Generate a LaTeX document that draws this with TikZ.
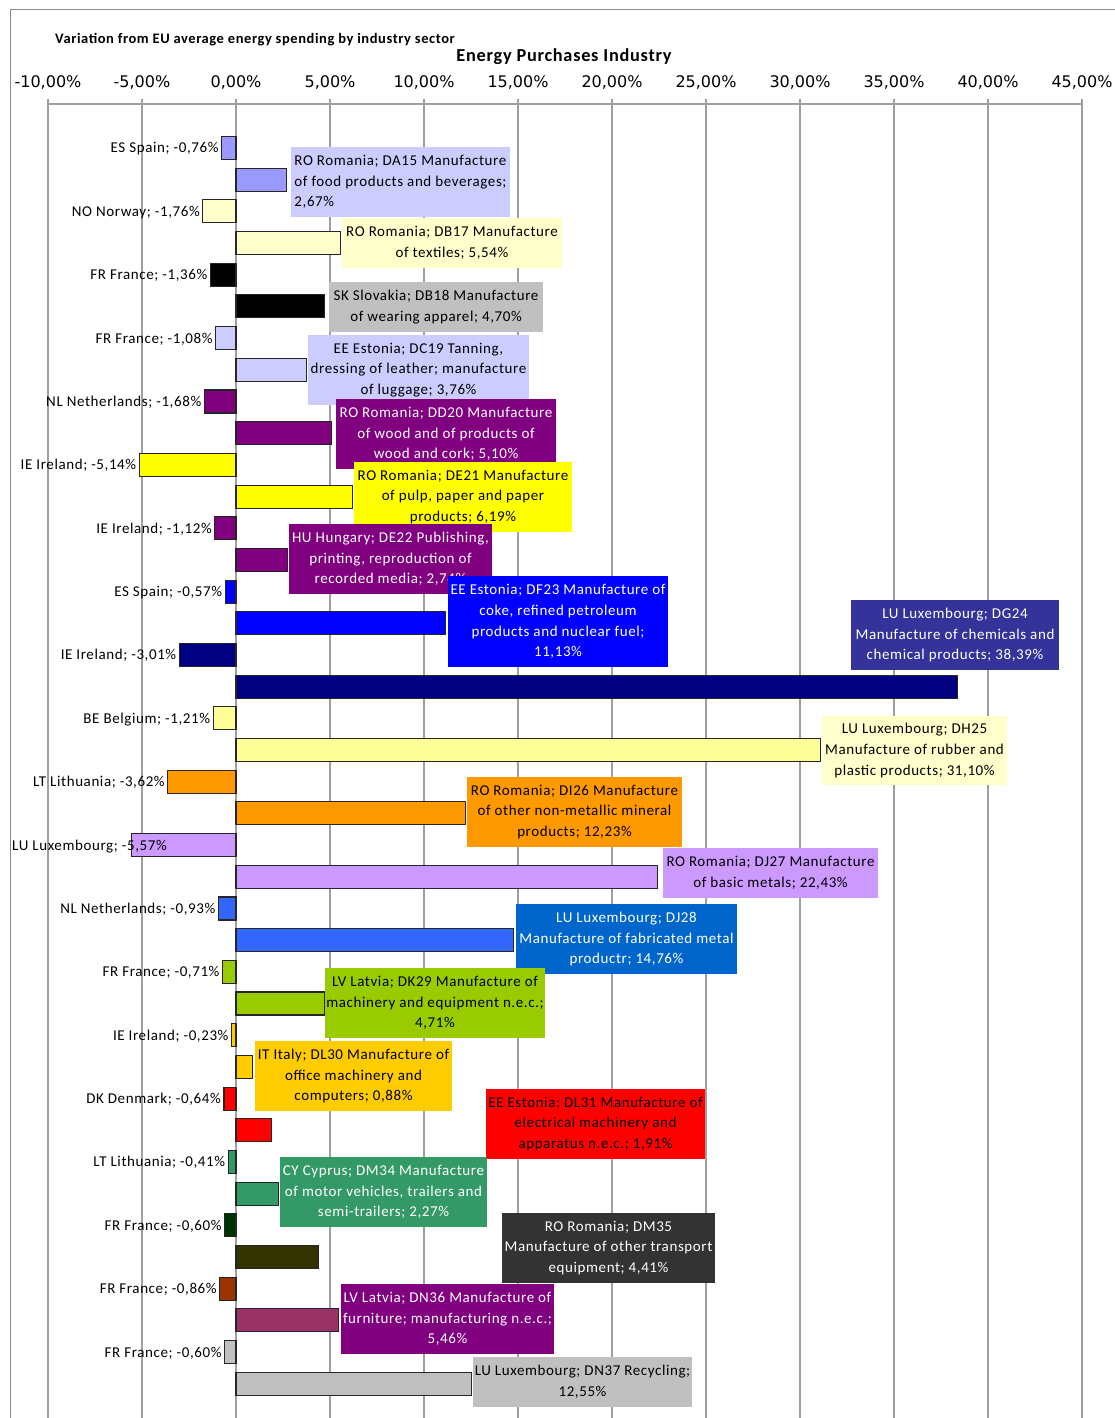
\documentclass[tikz,border=0pt]{standalone}
\usepackage{fontspec}
\setmainfont{Carlito}
\newfontfamily\lblfont{Carlito}[LetterSpace=4]
\newfontfamily\axfont{DejaVu Sans}
\definecolor{c9999ff}{HTML}{9999FF}
\definecolor{cffffcc}{HTML}{FFFFCC}
\definecolor{cccccff}{HTML}{CCCCFF}
\definecolor{cc0c0c0}{HTML}{C0C0C0}
\definecolor{c800080}{HTML}{800080}
\definecolor{cffff00}{HTML}{FFFF00}
\definecolor{c0000ff}{HTML}{0000FF}
\definecolor{c000080}{HTML}{000080}
\definecolor{c333399}{HTML}{333399}
\definecolor{cffff99}{HTML}{FFFF99}
\definecolor{cff9900}{HTML}{FF9900}
\definecolor{ccc99ff}{HTML}{CC99FF}
\definecolor{c3366ff}{HTML}{3366FF}
\definecolor{c0066cc}{HTML}{0066CC}
\definecolor{c99cc00}{HTML}{99CC00}
\definecolor{cffcc00}{HTML}{FFCC00}
\definecolor{cff0000}{HTML}{FF0000}
\definecolor{c339966}{HTML}{339966}
\definecolor{c003300}{HTML}{003300}
\definecolor{c333300}{HTML}{333300}
\definecolor{c333333}{HTML}{333333}
\definecolor{c993300}{HTML}{993300}
\definecolor{c993366}{HTML}{993366}
\definecolor{gridgray}{HTML}{A0A0A0}
\definecolor{framegray}{HTML}{8C8C8C}
\newcommand\mkbars[5]{%
  \pgfmathsetmacro\yn{148+63.37*#1}%
  \pgfmathsetmacro\yp{\yn+31.7}%
  \pgfmathsetmacro\xn{236+18.8*(#2)}%
  \pgfmathsetmacro\xp{236+18.8*(#4)}%
  \draw[barline, fill=#3] (\xn,\yn-11.5) rectangle (236,\yn+11.5);%
  \draw[barline, fill=#5] (236,\yp-11.5) rectangle (\xp,\yp+11.5);%
}
\begin{document}
\begin{tikzpicture}[x=1pt,y=-1pt,
  gridln/.style={draw=gridgray, line width=1.2pt},
  frameln/.style={draw=framegray, line width=1pt},
  barline/.style={draw=black!85, line width=1.1pt},
  catlabel/.style={font=\lblfont\fontsize{15}{17}\selectfont, inner sep=0pt, anchor=base east},
  boxlabel/.style={font=\lblfont\fontsize{15}{20.7}\selectfont, inner xsep=0pt, inner ysep=0pt, align=center},
  axlabel/.style={font=\axfont\fontsize{16}{18}\selectfont, inner sep=0pt},
  titlea/.style={font=\lblfont\bfseries\fontsize{14.5}{16}\selectfont, inner sep=0pt, anchor=west},
  titleb/.style={font=\lblfont\bfseries\fontsize{18.3}{20}\selectfont, inner sep=0pt}]
\useasboundingbox (0,0) rectangle (1115,1418);
\fill[white] (0,0) rectangle (1115,1418);
% frame
\draw[frameln] (10,1418) -- (10,10) -- (1115,10);
% grid
\foreach \k in {-2,...,9} {
  \draw[gridln] (236+94*\k,99) -- (236+94*\k,1418);
}
\draw[gridln] (48,104) -- (1082,104);
% axis labels
\foreach \k/\t in {-2/-10,-1/-5,0/0,1/5,2/10,3/15,4/20,5/25,6/30,7/35,8/40,9/45} {
  \node[axlabel] (ax\k) at (236+94*\k,82) {\t,00\%};
}
\node[titlea] (title1) at (55,40) {Variation from EU average energy spending by industry sector};
\node[titleb] (title2) at (564,57) {Energy Purchases Industry};
% bars and category labels
\mkbars{0}{-0.76}{c9999ff}{2.67}{c9999ff}
\node[catlabel] (n0) at (\xn-3,\yn+5) {ES Spain; -0,76\%};
\mkbars{1}{-1.76}{cffffcc}{5.54}{cffffcc}
\node[catlabel] (n1) at (\xn-3,\yn+5) {NO Norway; -1,76\%};
\mkbars{2}{-1.36}{black}{4.70}{black}
\node[catlabel] (n2) at (\xn-3,\yn+5) {FR France; -1,36\%};
\mkbars{3}{-1.08}{cccccff}{3.76}{cccccff}
\node[catlabel] (n3) at (\xn-3,\yn+5) {FR France; -1,08\%};
\mkbars{4}{-1.68}{c800080}{5.10}{c800080}
\node[catlabel] (n4) at (\xn-3,\yn+5) {NL Netherlands; -1,68\%};
\mkbars{5}{-5.14}{cffff00}{6.19}{cffff00}
\node[catlabel] (n5) at (\xn-3,\yn+5) {IE Ireland; -5,14\%};
\mkbars{6}{-1.12}{c800080}{2.74}{c800080}
\node[catlabel] (n6) at (\xn-3,\yn+5) {IE Ireland; -1,12\%};
\mkbars{7}{-0.57}{c0000ff}{11.13}{c0000ff}
\node[catlabel] (n7) at (\xn-3,\yn+5) {ES Spain; -0,57\%};
\mkbars{8}{-3.01}{c000080}{38.39}{c000080}
\node[catlabel] (n8) at (\xn-3,\yn+5) {IE Ireland; -3,01\%};
\mkbars{9}{-1.21}{cffff99}{31.10}{cffff99}
\node[catlabel] (n9) at (\xn-3,\yn+5) {BE Belgium; -1,21\%};
\mkbars{10}{-3.62}{cff9900}{12.23}{cff9900}
\node[catlabel] (n10) at (\xn-3,\yn+5) {LT Lithuania; -3,62\%};
\mkbars{11}{-5.57}{ccc99ff}{22.43}{ccc99ff}
\node[catlabel, anchor=base west] (n11) at (12,\yn+5) {LU Luxembourg; -5,57\%};
\mkbars{12}{-0.93}{c3366ff}{14.76}{c3366ff}
\node[catlabel] (n12) at (\xn-3,\yn+5) {NL Netherlands; -0,93\%};
\mkbars{13}{-0.71}{c99cc00}{4.71}{c99cc00}
\node[catlabel] (n13) at (\xn-3,\yn+5) {FR France; -0,71\%};
\mkbars{14}{-0.23}{cffcc00}{0.88}{cffcc00}
\node[catlabel] (n14) at (\xn-3,\yn+5) {IE Ireland; -0,23\%};
\mkbars{15}{-0.64}{cff0000}{1.91}{cff0000}
\node[catlabel] (n15) at (\xn-3,\yn+5) {DK Denmark; -0,64\%};
\mkbars{16}{-0.41}{c339966}{2.27}{c339966}
\node[catlabel] (n16) at (\xn-3,\yn+5) {LT Lithuania; -0,41\%};
\mkbars{17}{-0.60}{c003300}{4.41}{c333300}
\node[catlabel] (n17) at (\xn-3,\yn+5) {FR France; -0,60\%};
\mkbars{18}{-0.86}{c993300}{5.46}{c993366}
\node[catlabel] (n18) at (\xn-3,\yn+5) {FR France; -0,86\%};
\mkbars{19}{-0.60}{cc0c0c0}{12.55}{cc0c0c0}
\node[catlabel] (n19) at (\xn-3,\yn+5) {FR France; -0,60\%};
% data label boxes
\node[boxlabel, align=left, fill=cccccff, minimum width=219pt, minimum height=70pt] (p0) at (400.5,182) {RO Romania; DA15 Manufacture\\of food products and beverages;\\2,67\%};
\node[boxlabel, fill=cffffcc, minimum width=220pt, minimum height=50pt] (p1) at (452,243) {RO Romania; DB17 Manufacture\\of textiles; 5,54\%};
\node[boxlabel, fill=cc0c0c0, minimum width=214pt, minimum height=50pt] (p2) at (436,307) {SK Slovakia; DB18 Manufacture\\of wearing apparel; 4,70\%};
\node[boxlabel, fill=cccccff, minimum width=221pt, minimum height=70pt] (p3) at (418.5,370) {EE Estonia; DC19 Tanning,\\dressing of leather; manufacture\\of luggage; 3,76\%};
\node[boxlabel, fill=c800080, text=white, minimum width=220pt, minimum height=70pt] (p4) at (446,434) {RO Romania; DD20 Manufacture\\of wood and of products of\\wood and cork; 5,10\%};
\node[boxlabel, fill=cffff00, minimum width=218pt, minimum height=70pt] (p5) at (463,497) {RO Romania; DE21 Manufacture\\of pulp, paper and paper\\products; 6,19\%};
\node[boxlabel, fill=c800080, text=white, minimum width=203pt, minimum height=70pt] (p6) at (390.5,559) {HU Hungary; DE22 Publishing,\\printing, reproduction of\\recorded media; 2,74\%};
\node[boxlabel, fill=c0000ff, text=white, minimum width=220pt, minimum height=91pt] (p7) at (558,621.5) {EE Estonia; DF23 Manufacture of\\coke, refined petroleum\\products and nuclear fuel;\\11,13\%};
\node[boxlabel, fill=c333399, text=white, minimum width=208pt, minimum height=70pt] (p8) at (955,635) {LU Luxembourg; DG24\\Manufacture of chemicals and\\chemical products; 38,39\%};
\node[boxlabel, fill=cffffcc, minimum width=185pt, minimum height=69pt] (p9) at (914.5,750.5) {LU Luxembourg; DH25\\Manufacture of rubber and\\plastic products; 31,10\%};
\node[boxlabel, fill=cff9900, minimum width=215pt, minimum height=70pt] (p10) at (574.5,812) {RO Romania; DI26 Manufacture\\of other non-metallic mineral\\products; 12,23\%};
\node[boxlabel, fill=ccc99ff, minimum width=215pt, minimum height=50pt] (p11) at (770.5,873) {RO Romania; DJ27 Manufacture\\of basic metals; 22,43\%};
\node[boxlabel, fill=c0066cc, text=white, minimum width=221pt, minimum height=70pt] (p12) at (626.5,939) {LU Luxembourg; DJ28\\Manufacture of fabricated metal\\productr; 14,76\%};
\node[boxlabel, fill=c99cc00, minimum width=220pt, minimum height=70pt] (p13) at (435,1003) {LV Latvia; DK29 Manufacture of\\machinery and equipment n.e.c.;\\4,71\%};
\node[boxlabel, fill=cffcc00, minimum width=197pt, minimum height=70pt] (p14) at (353.5,1076) {IT Italy; DL30 Manufacture of\\office machinery and\\computers; 0,88\%};
\node[boxlabel, fill=cff0000, minimum width=219pt, minimum height=70pt] (p15) at (595.5,1124) {EE Estonia; DL31 Manufacture of\\electrical machinery and\\apparatus n.e.c.; 1,91\%};
\node[boxlabel, fill=c339966, text=white, minimum width=207pt, minimum height=70pt] (p16) at (383.5,1192) {CY Cyprus; DM34 Manufacture\\of motor vehicles, trailers and\\semi-trailers; 2,27\%};
\node[boxlabel, fill=c333333, text=white, minimum width=213pt, minimum height=70pt] (p17) at (608.5,1248) {RO Romania; DM35\\Manufacture of other transport\\equipment; 4,41\%};
\node[boxlabel, fill=c800080, text=white, minimum width=213pt, minimum height=70pt] (p18) at (447.5,1319) {LV Latvia; DN36 Manufacture of\\furniture; manufacturing n.e.c.;\\5,46\%};
\node[boxlabel, fill=cc0c0c0, minimum width=219pt, minimum height=50pt] (p19) at (582.5,1382) {LU Luxembourg; DN37 Recycling;\\12,55\%};
\end{tikzpicture}
\end{document}
